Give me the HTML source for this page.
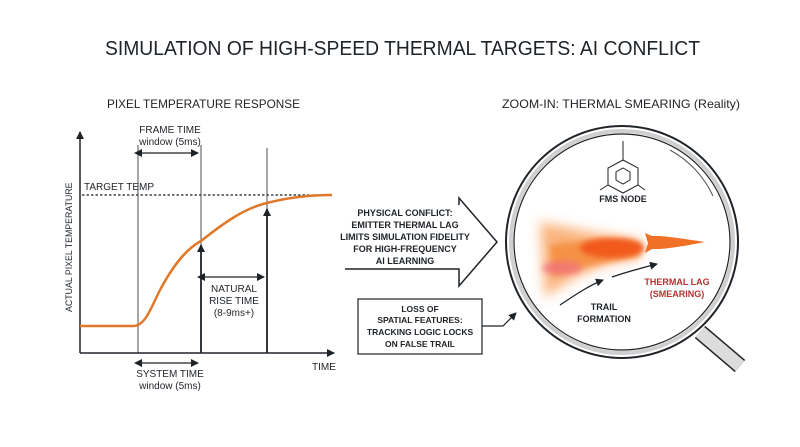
<!DOCTYPE html>
<html><head><meta charset="utf-8"><style>
html,body{margin:0;padding:0;background:#fff;}
svg{display:block;font-family:"Liberation Sans",sans-serif;}
</style></head><body>
<svg width="800" height="447" viewBox="0 0 800 447" xmlns="http://www.w3.org/2000/svg">
<defs>
<marker id="ah" markerWidth="8" markerHeight="8" refX="7" refY="4" orient="auto" markerUnits="userSpaceOnUse"><path d="M0,0 L8,4 L0,8 z" fill="#1e2328"/></marker>
<marker id="as" markerWidth="8" markerHeight="8" refX="1" refY="4" orient="auto-start-reverse" markerUnits="userSpaceOnUse"><path d="M0,0 L8,4 L0,8 z" fill="#1e2328"/></marker>
<filter id="bl" x="-50%" y="-50%" width="200%" height="200%"><feGaussianBlur stdDeviation="6"/></filter>
<filter id="bl2" x="-50%" y="-50%" width="200%" height="200%"><feGaussianBlur stdDeviation="3"/></filter>
</defs>
<rect width="800" height="447" fill="#fff"/>
<text x="105" y="55" font-size="20" fill="#1e2328" textLength="595" lengthAdjust="spacingAndGlyphs">SIMULATION OF HIGH-SPEED THERMAL TARGETS: AI CONFLICT</text>
<text x="107" y="108" font-size="12" fill="#1e2328" textLength="193" lengthAdjust="spacingAndGlyphs">PIXEL TEMPERATURE RESPONSE</text>
<text x="502" y="108" font-size="12" fill="#1e2328" textLength="238" lengthAdjust="spacingAndGlyphs">ZOOM-IN: THERMAL SMEARING (Reality)</text>

<g stroke="#1e2328" fill="none">
<line x1="80" y1="353" x2="80" y2="132" stroke-width="1.5" marker-end="url(#ah)"/>
<line x1="80" y1="353" x2="334" y2="353" stroke-width="1.5" marker-end="url(#ah)"/>
<line x1="138" y1="145" x2="138" y2="353" stroke-width="0.8"/>
<line x1="201" y1="145" x2="201" y2="353" stroke-width="0.8"/>
<line x1="267" y1="148" x2="267" y2="353" stroke-width="0.8"/>
<line x1="82" y1="195" x2="332" y2="195" stroke-width="1.2" stroke-dasharray="2.5,2"/>
<line x1="141" y1="153" x2="198" y2="153" stroke-width="1.2" marker-start="url(#as)" marker-end="url(#ah)"/>
<line x1="141" y1="363" x2="198" y2="363" stroke-width="1.2" marker-start="url(#as)" marker-end="url(#ah)"/>
<line x1="204" y1="277" x2="264" y2="277" stroke-width="1.2" marker-start="url(#as)" marker-end="url(#ah)"/>
<line x1="201" y1="353" x2="201" y2="245" stroke-width="1.8" marker-end="url(#ah)"/>
<line x1="267" y1="353" x2="267" y2="209" stroke-width="1.8" marker-end="url(#ah)"/>
</g>
<path d="M80,326 L133,326 C145,326 150,310 160,290 C175,262 188,248 201,241 C225,222 245,208 267,203 C290,197 310,195 332,195" stroke="#e0782a" stroke-width="2.5" fill="none"/>
<g fill="#1e2328" font-size="10">
<text x="84" y="190">TARGET TEMP</text>
<text x="170" y="133" text-anchor="middle">FRAME TIME</text>
<text x="170" y="145" text-anchor="middle">window (5ms)</text>
<text x="234" y="292" text-anchor="middle">NATURAL</text>
<text x="234" y="304" text-anchor="middle">RISE TIME</text>
<text x="234" y="316" text-anchor="middle">(8-9ms+)</text>
<text x="170" y="377" text-anchor="middle">SYSTEM TIME</text>
<text x="170" y="389" text-anchor="middle">window (5ms)</text>
<text x="312" y="370">TIME</text>
<text transform="translate(72,312) rotate(-90)" font-size="8.8">ACTUAL PIXEL TEMPERATURE</text>
</g>

<path d="M459,205 L459,198 L497,242 L459,286 L459,269 L345,269" fill="none" stroke="#1e2328" stroke-width="1.5"/>
<g fill="#1e2328" font-size="9" font-weight="bold" text-anchor="middle">
<text x="405" y="216">PHYSICAL CONFLICT:</text>
<text x="405" y="228">EMITTER THERMAL LAG</text>
<text x="405" y="240">LIMITS SIMULATION FIDELITY</text>
<text x="405" y="252">FOR HIGH-FREQUENCY</text>
<text x="405" y="264">AI LEARNING</text>
</g>
<rect x="358" y="299" width="124" height="55" fill="#fff" stroke="#1e2328" stroke-width="1.2"/>
<g fill="#1e2328" font-size="8.5" font-weight="bold" text-anchor="middle">
<text x="420" y="312">LOSS OF</text>
<text x="420" y="323">SPATIAL FEATURES:</text>
<text x="420" y="335">TRACKING LOGIC LOCKS</text>
<text x="420" y="347">ON FALSE TRAIL</text>
</g>
<polyline points="482,326 503,326 516,313" fill="none" stroke="#1e2328" stroke-width="1.2" marker-end="url(#ah)"/>

<line x1="700" y1="332" x2="740" y2="366" stroke="#1e2328" stroke-width="16" stroke-linecap="butt"/>
<line x1="700" y1="332" x2="740" y2="366" stroke="#dcdcdc" stroke-width="13"/>
<circle cx="622" cy="242" r="116" fill="#fff" stroke="#1e2328" stroke-width="2"/>
<circle cx="622" cy="242" r="111" fill="none" stroke="#cfcfcf" stroke-width="4"/>
<circle cx="622" cy="242" r="108" fill="#fff" stroke="#1e2328" stroke-width="1.2"/>
<path d="M670,150 A100,100 0 0 1 713,196" fill="none" stroke="#555" stroke-width="1"/>

<g stroke="#1e2328" stroke-width="1" fill="none">
<path d="M623,160 L638,168 L638,185 L623,193 L608,185 L608,168 Z"/>
<path d="M623,168 L630,172 L630,180 L623,184 L616,180 L616,172 Z"/>
<line x1="623" y1="160" x2="623" y2="141"/><line x1="638" y1="185" x2="645" y2="190"/><line x1="608" y1="185" x2="600" y2="190"/>
</g>
<text x="623" y="202" font-size="9" font-weight="bold" fill="#1e2328" text-anchor="middle">FMS NODE</text>

<g>
<path d="M540,222 C570,228 600,235 640,240 L640,258 C600,262 570,278 545,298 Z" fill="#f9a565" filter="url(#bl)" opacity="0.85"/>
<path d="M550,245 C580,240 610,240 640,243 L640,256 C610,260 580,270 552,275 Z" fill="#f58a3a" filter="url(#bl2)" opacity="0.8"/>
<ellipse cx="612" cy="248" rx="32" ry="10" fill="#f25a1e" filter="url(#bl2)"/>
<ellipse cx="562" cy="268" rx="20" ry="7" fill="#f07080" filter="url(#bl2)" opacity="0.7"/>
</g>
<path d="M645,233 L652,236 L660,236 C672,237 685,239 705,242 C685,246 672,248 660,249 L652,249 L645,253 L648,243 Z" fill="#f07025"/>
<g stroke="#1e2328" stroke-width="1.3" fill="none">
<path d="M560,305 C575,295 590,285 603,280" marker-end="url(#ah)"/>
<path d="M612,277 C630,271 645,267 657,264" marker-end="url(#ah)"/>
</g>
<text x="604" y="310" font-size="9" font-weight="bold" fill="#1e2328" text-anchor="middle">TRAIL</text>
<text x="604" y="322" font-size="9" font-weight="bold" fill="#1e2328" text-anchor="middle">FORMATION</text>
<text x="677" y="285" font-size="9" font-weight="bold" fill="#b83232" text-anchor="middle">THERMAL LAG</text>
<text x="677" y="297" font-size="9" font-weight="bold" fill="#b83232" text-anchor="middle">(SMEARING)</text>
</svg>
</body></html>
